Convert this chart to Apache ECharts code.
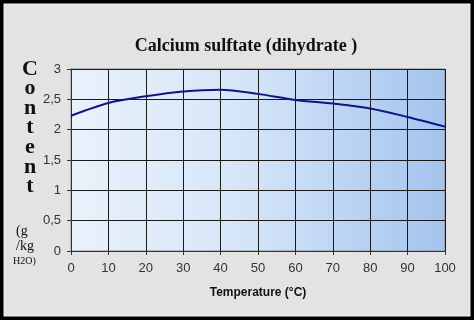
<!DOCTYPE html>
<html><head><meta charset="utf-8">
<script src="https://cdn.jsdelivr.net/npm/echarts@6/dist/echarts.min.js"></script>
<style>html,body{margin:0;padding:0;background:#000}#c{width:474px;height:320px}</style>
</head><body><div id="c"></div>
<script>
const temperatures = [0, 10, 20, 30, 40, 50, 60, 70, 80, 90, 100];
const content = [2.23, 2.44, 2.55, 2.63, 2.66, 2.59, 2.49, 2.43, 2.35, 2.21, 2.05];
const titleText = 'Calcium sulftate (dihydrate )';
const yNameLetters = ['C', 'o', 'n', 't', 'e', 'n', 't'];
const yUnitLines = ['(g', '/kg', 'H2O)'];
const xName = 'Temperature (°C)';

const chart = echarts.init(document.getElementById('c'), null, {renderer: 'canvas'});
const graphics = [
  {type: 'rect', shape: {x: 0, y: 0, width: 474, height: 320}, style: {fill: 'none', stroke: '#000', lineWidth: 7}, z: 100},
  {type: 'rect', shape: {x: 4, y: 4, width: 466, height: 312}, style: {fill: 'none', stroke: '#f4f4f4', lineWidth: 1}, z: 99}
];
yNameLetters.forEach((ch, i) => {
  graphics.push({type: 'text', x: 30, y: 69 + i * 19.6, style: {text: ch, font: 'bold 22px "Liberation Serif", "DejaVu Serif", serif', fill: '#111', align: 'center', verticalAlign: 'middle'}});
});
yUnitLines.forEach((t, i) => {
  graphics.push({type: 'text', x: i === 2 ? 13 : 16, y: 231 + i * 15, style: {text: t, font: (i === 2 ? '10px' : '14px') + ' "Liberation Serif", serif', fill: '#111', align: 'left', verticalAlign: 'middle'}});
});
chart.setOption({
  backgroundColor: '#e3e3e3',
  animation: false,
  title: {text: titleText, left: 241, top: 32, textAlign: 'center',
    textStyle: {fontFamily: '"Liberation Serif", serif', fontWeight: 'bold', fontSize: 18, color: '#111'}},
  graphic: graphics,
  grid: {left: 71, right: 29, top: 69, bottom: 69, show: true, borderColor: '#8a8a8a', borderWidth: 1,
    backgroundColor: new echarts.graphic.LinearGradient(0, 0, 1, 0, [
      {offset: 0, color: '#e9f1fb'}, {offset: 0.45, color: '#d6e6f8'}, {offset: 1, color: '#a4c4ee'}])},
  xAxis: {type: 'value', min: 0, max: 100, interval: 10,
    name: xName, nameLocation: 'middle', nameGap: 36,
    nameTextStyle: {fontFamily: '"Liberation Sans", Arial, sans-serif', fontWeight: 'bold', fontSize: 12, color: '#111'},
    axisLine: {show: true, lineStyle: {color: '#333', width: 1}},
    axisTick: {show: true, inside: false, length: 4, lineStyle: {color: '#333'}},
    axisLabel: {margin: 11, fontFamily: '"Liberation Sans", Arial, sans-serif', fontSize: 13, color: '#333'},
    splitLine: {show: true, lineStyle: {color: '#1a1a1a', width: 1}}},
  yAxis: {type: 'value', min: 0, max: 3, interval: 0.5,
    axisLine: {show: true, lineStyle: {color: '#333', width: 1}},
    axisTick: {show: true, inside: false, length: 4, lineStyle: {color: '#333'}},
    axisLabel: {margin: 10, fontFamily: '"Liberation Sans", Arial, sans-serif', fontSize: 13, color: '#333',
      formatter: v => String(v).replace('.', ',')},
    splitLine: {show: true, lineStyle: {color: '#1a1a1a', width: 1}}},
  series: [{type: 'line', data: temperatures.map((t, i) => [t, content[i]]), smooth: 0.3,
    showSymbol: false, lineStyle: {color: '#141480', width: 2}}]
});
</script></body></html>
